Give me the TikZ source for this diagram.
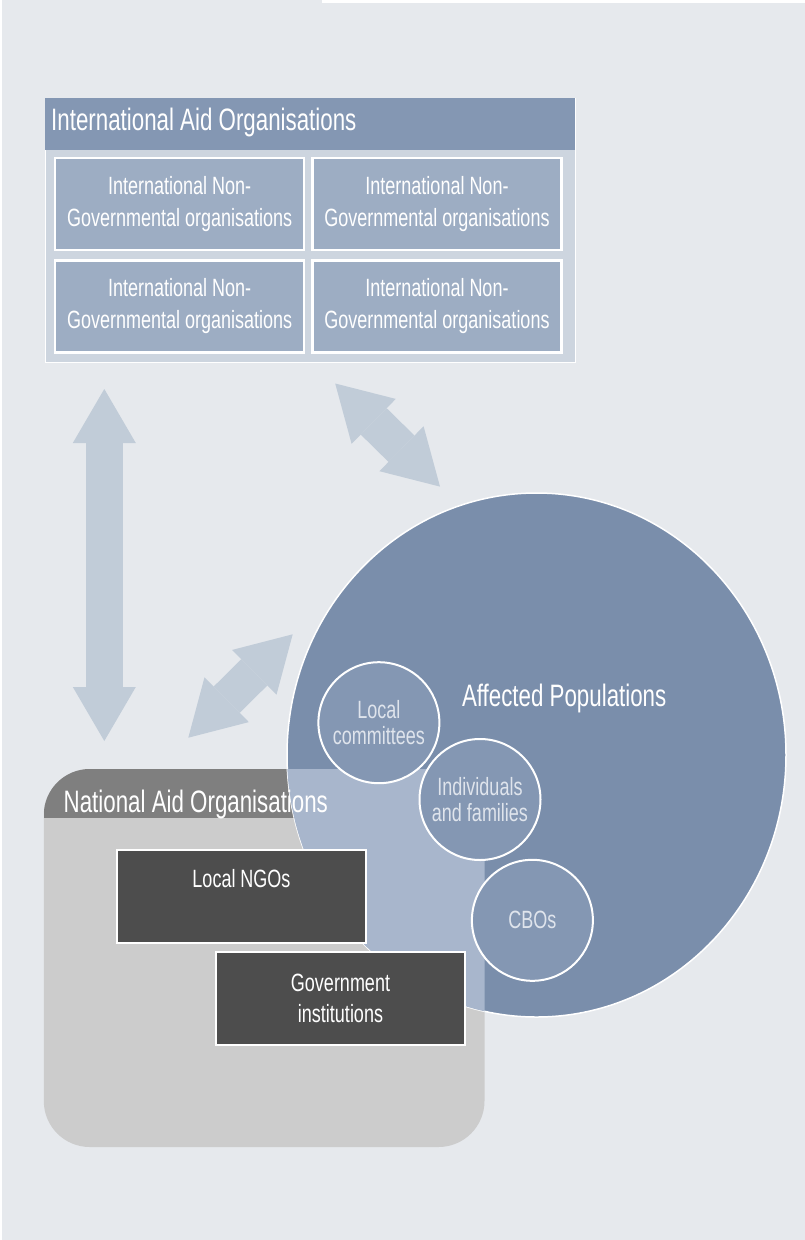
\documentclass[tikz,border=0pt]{standalone}
\usepackage{fontspec}
\setmainfont{Liberation Sans}[FakeStretch=0.72]
\usetikzlibrary{arrows.meta,calc,positioning,shapes.geometric}
\definecolor{pagebg}{HTML}{E6E9ED}
\definecolor{intlhead}{HTML}{8497B3}
\definecolor{intlbody}{HTML}{CDD5DF}
\definecolor{ingofill}{HTML}{9DADC3}
\definecolor{arrowfill}{HTML}{C1CCD8}
\definecolor{popfill}{HTML}{7A8EAB}
\definecolor{groupfill}{HTML}{8497B3}
\definecolor{overlapfill}{HTML}{A8B6CC}
\definecolor{natlhead}{HTML}{7F7F7F}
\definecolor{natlbody}{HTML}{CCCCCC}
\definecolor{darkbox}{HTML}{4D4D4D}
\definecolor{softtext}{HTML}{DFE4EC}
\tikzset{x=1pt, y=-1pt, node distance=102.5pt and 257.3pt, on grid,
headtext/.style={text=white, inner sep=0pt, font=\fontsize{31}{37}\selectfont},
ingo/.style={rectangle, fill=ingofill, draw=white, line width=2.5pt, minimum width=249pt, minimum height=92pt, align=center, text=white, font=\fontsize{25}{32}\selectfont},
orgbox/.style={rectangle, fill=darkbox, draw=white, line width=2pt, minimum width=249pt, minimum height=93pt, align=center, text=white, font=\fontsize{25}{31}\selectfont},
group/.style={circle, fill=groupfill, draw=white, line width=2pt, minimum size=121pt, inner sep=0pt, align=center, text=softtext, font=\fontsize{25}{26.5}\selectfont},
twoway/.style={draw=arrowfill, line width=37pt, arrows={Triangle[length=54pt, width=63pt, line width=0pt]-Triangle[length=54pt, width=63pt, line width=0pt]}}}

\begin{document}
\begin{tikzpicture}

    % Page
    \fill[pagebg] (0,0) rectangle (805,1240);
    \fill[white] (322,0) rectangle (805,3);
    \fill[white] (0,0) rectangle (1.5,1240);
    \useasboundingbox (0,0) rectangle (805,1240);

    % International block
    \node[rectangle, fill=intlbody, draw=white, line width=1pt, outer sep=0pt, minimum width=530pt, minimum height=264pt] (intl) at (310,230) {};
    \fill[intlhead] (intl.north west) rectangle ($(intl.north east)+(0,52)$);
    \node[headtext, anchor=base west] (intltitle) at (51,130.7) {International Aid Organisations};
    \node[ingo] (ingo1) at (179.7,204) {International Non-\\Governmental organisations};
    \node[ingo, right=of ingo1] (ingo2) {International Non-\\Governmental organisations};
    \node[ingo, below=of ingo1] (ingo3) {International Non-\\Governmental organisations};
    \node[ingo, below=of ingo2] (ingo4) {International Non-\\Governmental organisations};

    % Arrows
    \coordinate (vtop) at (104.3,389);
    \coordinate (vbot) at (104.3,741);
    \coordinate (dtop) at (335.2,383.5);
    \coordinate (dbot) at (440,486.6);
    \coordinate (ltop) at (292.7,634.3);
    \coordinate (lbot) at (188.3,737.7);
    \draw[twoway] (vtop) -- (vbot);
    \draw[twoway] (dtop) -- (dbot);
    \draw[twoway] (lbot) -- (ltop);

    % National block
    \node[rectangle, rounded corners=46pt, fill=natlbody, outer sep=0pt, inner sep=0pt, minimum width=440.7pt, minimum height=378pt] (natl) at (264.15,958) {};
    \begin{scope}
      \clip[rounded corners=46pt] (natl.north west) rectangle (natl.south east);
      \fill[natlhead] (natl.north west) rectangle ($(natl.north east)+(0,49)$);
    \end{scope}

    % Affected populations
    \node[ellipse, fill=popfill, draw=white, line width=1.5pt, inner sep=0pt, minimum width=499pt, minimum height=524pt] (affected) at (536.5,755) {};
    \begin{scope}
      \clip[rounded corners=46pt] (natl.north west) rectangle (natl.south east);
      \fill[overlapfill] (affected.center) ellipse [x radius=249.5, y radius=262];
    \end{scope}
    \node[headtext, anchor=base west] (affectedtitle) at (461.8,706) {Affected Populations};
    \node[headtext, anchor=base west] (natltitle) at (63.5,812) {National Aid Organisations};

    \node[orgbox] (lngo) at (241.5,896) {};
    \node[text=white, font=\fontsize{25}{31}\selectfont, anchor=base] (lngotext) at (241.5,887) {Local NGOs};
    \node[orgbox] (govt) at (340.5,998) {Government\\institutions};

    \node[group] (lcom) at (378.9,722.7) {Local\\committees};
    \node[group] (indiv) at (480,799.5) {Individuals\\and families};
    \node[group] (cbo) at (532.4,920.3) {CBOs};
  \end{tikzpicture}
\end{document}
